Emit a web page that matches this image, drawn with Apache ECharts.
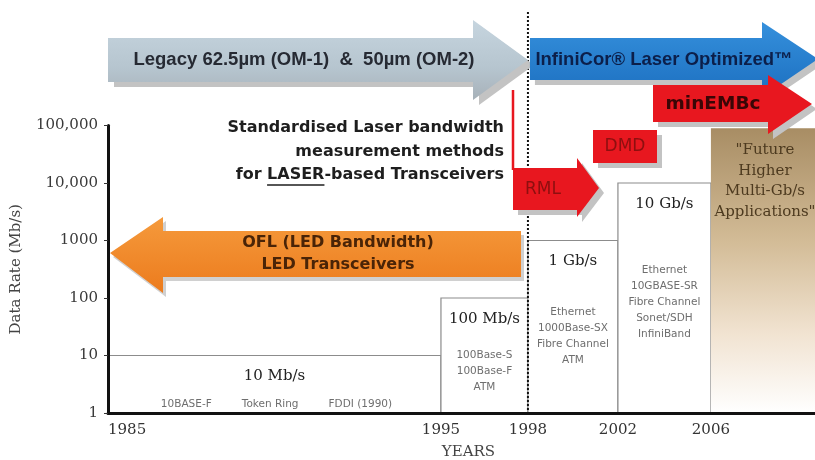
<!DOCTYPE html>
<html><head><meta charset="utf-8">
<script src="https://cdn.jsdelivr.net/npm/echarts@6/dist/echarts.min.js"></script>
<style>html,body{margin:0;padding:0;background:#fff}#c{width:815px;height:460px}</style>
</head><body><div id="c"></div>
<script>
// ---- axis definitions (the original uses a non-uniform time scale) ----
const tickYears = [1985, 1995, 1998, 2002, 2006];
const tickSlots = [0, 11.1, 14, 17, 20.1];
const axisEndSlot = 23.57;
const yTickValues = [1, 10, 100, 1000, 10000, 100000];
const yTickLabels = ['1', '10', '100', '1000', '10,000', '100,000'];

// ---- eras (data-rate steps) ----
const eraStart = [1985, 1995, 1998, 2002, 2006];
const eraEnd = [1995, 1998, 2002, 2006, null];     // null = open-ended
const eraRate = [10, 100, 1000, 10000, 90000];
const eraTitle = ['10 Mb/s', '100 Mb/s', '1 Gb/s', '10 Gb/s', '"Future\nHigher\nMulti-Gb/s\nApplications"'];
const eraStandards = [
  ['10BASE-F', 'Token Ring', 'FDDI (1990)'],
  ['100Base-S', '100Base-F', 'ATM'],
  ['Ethernet', '1000Base-SX', 'Fibre Channel', 'ATM'],
  ['Ethernet', '10GBASE-SR', 'Fibre Channel', 'Sonet/SDH', 'InfiniBand'],
  []
];
const dividerYear = 1998;

function yearToSlot(y) {
  let i = 0;
  while (i < tickYears.length - 2 && y > tickYears[i + 1]) i++;
  const y0 = tickYears[i], y1 = tickYears[i + 1];
  return tickSlots[i] + (y - y0) / (y1 - y0) * (tickSlots[i + 1] - tickSlots[i]);
}

const eraData = eraStart.map((s, i) => [
  yearToSlot(s), eraEnd[i] == null ? axisEndSlot : yearToSlot(eraEnd[i]), eraRate[i], i
]);

const SERIF = '"DejaVu Serif", "Liberation Serif", serif';
const SANS = '"DejaVu Sans", Verdana, sans-serif';
const ARIAL = '"Liberation Sans", Arial, sans-serif';

function renderEra(params, api) {
  const i = api.value(3);
  const tl = api.coord([api.value(0), api.value(2)]);
  const br = api.coord([api.value(1), 1]);
  const x = tl[0], top = tl[1], w = br[0] - tl[0], bottom = br[1], h = bottom - top, cx = x + w / 2;
  const future = eraEnd[i] == null;
  const children = [];
  if (future) {
    children.push({ type: 'rect', shape: { x: x, y: top, width: w, height: h },
      style: { fill: new echarts.graphic.LinearGradient(0, 0, 0, 1, [
        { offset: 0, color: '#a88d64' }, { offset: 0.4, color: '#d3bc97' },
        { offset: 0.72, color: '#f1e3d1' }, { offset: 1, color: '#ffffff' }]) } });
    children.push({ type: 'text', style: { text: eraTitle[i], x: cx + 2, y: top + 12, align: 'center',
      verticalAlign: 'top', font: '15px ' + SERIF, fill: '#4d3a1f', lineHeight: 20.5 } });
  } else {
    children.push({ type: 'rect', shape: { x: x, y: top, width: w, height: h },
      style: { fill: '#fff', stroke: '#8c8c8c', lineWidth: 1.2 } });
    children.push({ type: 'text', style: { text: eraTitle[i], x: cx, y: top + 21, align: 'center',
      verticalAlign: 'middle', font: '15px ' + SERIF, fill: '#222' } });
    const std = eraStandards[i];
    if (h < 80) {
      children.push({ type: 'text', style: { text: std.join('         '), x: cx + 2, y: bottom - 9,
        align: 'center', verticalAlign: 'middle', font: '10.5px ' + SANS, fill: '#6e6e6e' } });
    } else {
      children.push({ type: 'text', style: { text: std.join('\n'), x: cx, y: top + 0.4 * h + 27,
        align: 'center', verticalAlign: 'middle', font: '10.5px ' + SANS, fill: '#6e6e6e', lineHeight: 16 } });
    }
  }
  return { type: 'group', children: children };
}

const option = {
  animation: false,
  backgroundColor: '#fff',
  grid: { left: 108, right: 0, top: 125.5, bottom: 47, containLabel: false, outerBoundsMode: 'none' },
  xAxis: {
    type: 'value', min: 0, max: axisEndSlot, z: 5,
    axisLine: { lineStyle: { color: '#111', width: 3 } },
    axisTick: { show: false },
    splitLine: { show: false },
    axisLabel: {
      customValues: tickSlots,
      formatter: v => { const i = tickSlots.findIndex(s => Math.abs(s - v) < 1e-6); return i >= 0 ? String(tickYears[i]) : ''; },
      fontFamily: 'DejaVu Serif', fontSize: 15, color: '#333', margin: 10, alignMinLabel: 'left'
    },
    name: 'YEARS', nameLocation: 'middle', nameGap: 32,
    nameTextStyle: { fontFamily: 'DejaVu Serif', fontSize: 15, color: '#444', padding: [0, 0, 0, 14] }
  },
  yAxis: {
    type: 'log', logBase: 10, min: 1, max: 100000, z: 5,
    axisLine: { show: true, lineStyle: { color: '#111', width: 3 } },
    axisTick: { show: true, length: 4, lineStyle: { color: '#333' } },
    minorTick: { show: false },
    splitLine: { show: false },
    axisLabel: {
      formatter: v => { const i = yTickValues.indexOf(Math.round(v)); return i >= 0 ? yTickLabels[i] : ''; },
      fontFamily: 'DejaVu Serif', fontSize: 15, color: '#3a3a3a', margin: 10
    },
    name: 'Data Rate (Mb/s)', nameLocation: 'middle', nameGap: 84, nameRotate: 90,
    nameTextStyle: { fontFamily: 'DejaVu Serif', fontSize: 15, color: '#444' }
  },
  series: [{
    type: 'custom', z: 2, renderItem: renderEra,
    encode: { x: [0, 1], y: 2 }, data: eraData, silent: true
  }]
};

const chart = echarts.init(document.getElementById('c'), null, { renderer: 'canvas' });
chart.setOption(option);

// ---- annotations ----
const xDiv = chart.convertToPixel({ xAxisIndex: 0 }, yearToSlot(dividerYear));
const xLeft = chart.convertToPixel({ xAxisIndex: 0 }, 0);
const yBottom = chart.convertToPixel({ yAxisIndex: 0 }, 1);
const SHADOW = '#c3c3c3';
const RED = '#e8171f';

function poly(points, fill, z) {
  return { type: 'polygon', z: z, shape: { points: points }, style: { fill: fill } };
}
function shifted(points, dx, dy) { return points.map(p => [p[0] + dx, p[1] + dy]); }
function txt(text, x, y, font, fill, align, z) {
  return { type: 'text', z: z || 120, style: { text: text, x: x, y: y, font: font, fill: fill,
    align: align || 'center', verticalAlign: 'middle' } };
}

const g = [];
// divider
g.push({ type: 'line', z: 50, shape: { x1: xDiv, y1: 12, x2: xDiv, y2: yBottom },
  style: { stroke: '#111', lineWidth: 2, lineDash: [2, 2] } });

// legacy grey arrow
const grey = [[xLeft, 38], [473, 38], [473, 20], [xDiv, 60], [473, 100], [473, 82], [xLeft, 82]];
g.push(poly(shifted(grey, 6, 5), SHADOW, 90));
g.push(poly(grey, new echarts.graphic.LinearGradient(0, 0, 0, 1, [
  { offset: 0, color: '#c6d5df' }, { offset: 0.6, color: '#b6c5cf' }, { offset: 1, color: '#a7b1b9' }]), 100));
g.push(txt('Legacy 62.5µm (OM-1)  &  50µm (OM-2)', 304, 60, 'bold 18.5px ' + ARIAL, '#262a33'));

// blue arrow
const blue = [[xDiv + 2, 38], [762, 38], [762, 22], [818, 59], [762, 97], [762, 80], [xDiv + 2, 80]];
g.push(poly(shifted(blue, 5, 5), SHADOW, 90));
g.push(poly(blue, new echarts.graphic.LinearGradient(0, 0, 0, 1, [
  { offset: 0, color: '#3590dc' }, { offset: 1, color: '#1c6fc0' }]), 100));
g.push(txt('InfiniCor® Laser Optimized™', 664, 60, 'bold 18.5px ' + ARIAL, '#0c1f4a'));

// minEMBc arrow
const emb = [[653, 85], [768, 85], [768, 75], [812, 104], [768, 134], [768, 122], [653, 122]];
g.push(poly(shifted(emb, 5, 5), SHADOW, 101));
g.push(poly(emb, RED, 102));
g.push(txt('minEMBc', 713, 104, 'bold 18.5px ' + SANS, '#3a0606', 'center', 122));

// DMD box
const dmd = [[593, 130], [657, 130], [657, 163], [593, 163]];
g.push(poly(shifted(dmd, 5, 5), SHADOW, 101));
g.push(poly(dmd, RED, 102));
g.push(txt('DMD', 625, 147, '17px ' + SANS, '#8e0f0f', 'center', 122));

// RML
g.push({ type: 'line', z: 102, shape: { x1: 513, y1: 90, x2: 513, y2: 170 }, style: { stroke: RED, lineWidth: 2.5 } });
const rml = [[513, 168], [577, 168], [577, 158], [599, 188], [577, 217], [577, 210], [513, 210]];
g.push(poly(shifted(rml, 5, 5), SHADOW, 101));
g.push(poly(rml, RED, 102));
g.push(txt('RML', 543, 190, '17px ' + SANS, '#8e0f0f', 'center', 122));

// orange OFL arrow
const orange = [[xLeft + 2, 253], [163, 217], [163, 231], [521, 231], [521, 277], [163, 277], [163, 293]];
g.push(poly(shifted(orange, 3, 4), '#d0d0d0', 90));
g.push(poly(orange, new echarts.graphic.LinearGradient(0, 0, 0, 1, [
  { offset: 0, color: '#f59a3c' }, { offset: 1, color: '#ec7b1d' }]), 100));
g.push(txt('OFL (LED Bandwidth)', 338, 243, 'bold 16px ' + SANS, '#4a2407'));
g.push(txt('LED Transceivers', 338, 265, 'bold 16px ' + SANS, '#4a2407'));

// Standardised text
const stdLines = ['Standardised Laser bandwidth', 'measurement methods', 'for LASER-based Transceivers'];
const stdFont = 'bold 16px ' + SANS;
const stdRight = 504;
const stdY = [128, 152, 175];
stdLines.forEach((s, k) => g.push(txt(s, stdRight, stdY[k], stdFont, '#1e1e1e', 'right')));
const mctx = document.createElement('canvas').getContext('2d');
mctx.font = 'bold 16px "DejaVu Sans"';
const l3 = stdRight - mctx.measureText(stdLines[2]).width;
const u0 = l3 + mctx.measureText('for ').width;
const u1 = u0 + mctx.measureText('LASER').width;
g.push({ type: 'line', z: 120, shape: { x1: u0, y1: 185, x2: u1, y2: 185 }, style: { stroke: '#1e1e1e', lineWidth: 1.6 } });

chart.setOption({ graphic: g });
</script>
</body></html>
